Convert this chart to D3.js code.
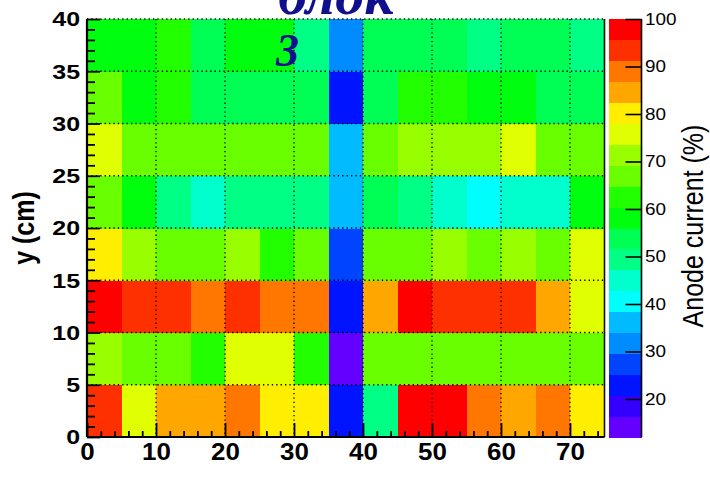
<!DOCTYPE html>
<html>
<head>
<meta charset="utf-8">
<script src="https://cdn.jsdelivr.net/npm/d3@7"></script>
<style>
  html, body { margin: 0; padding: 0; background: #fff; }
  svg { display: block; }
  .ax text { font-family: "Liberation Sans", Arial, sans-serif; font-weight: bold; fill: #000; }
  .zax text { font-family: "Liberation Sans", Arial, sans-serif; fill: #000; }
</style>
</head>
<body>
<svg id="chart" width="710" height="498"></svg>
<script>
// Bin lower edges (cm)
const xStarts = [0, 5, 10, 15, 20, 25, 30, 35, 40, 45, 50, 55, 60, 65, 70];
const yStarts = [0, 5, 10, 15, 20, 25, 30, 35];
const binSize = 5;

// Anode current (%) per bin, one row per y bin, left to right in x
const anodeY0  = [93, 76, 85, 84, 89, 80, 81, 22, 49, 98, 97, 89, 85, 88, 80];
const anodeY5  = [71, 67, 66, 62, 76, 75, 63, 12, 67, 66, 67, 66, 67, 66, 67];
const anodeY10 = [100, 94, 93, 89, 93, 88, 89, 23, 85, 97, 94, 93, 93, 84, 76];
const anodeY15 = [80, 71, 67, 66, 71, 62, 66, 27, 67, 66, 71, 67, 72, 66, 76];
const anodeY20 = [66, 58, 49, 45, 49, 50, 49, 36, 53, 49, 45, 41, 45, 44, 58];
const anodeY25 = [76, 67, 66, 67, 66, 67, 66, 36, 67, 71, 71, 70, 76, 67, 66];
const anodeY30 = [67, 58, 62, 54, 53, 54, 53, 23, 54, 62, 63, 58, 59, 54, 53];
const anodeY35 = [58, 59, 62, 54, 58, 57, 49, 32, 54, 53, 54, 49, 54, 53, 49];
const anodeRows = [anodeY0, anodeY5, anodeY10, anodeY15, anodeY20, anodeY25, anodeY30, anodeY35];

// Tick values
const xMajorTicks = [0, 10, 20, 30, 40, 50, 60, 70];
const yMajorTicks = [0, 5, 10, 15, 20, 25, 30, 35, 40];
const zMajorTicks = [20, 30, 40, 50, 60, 70, 80, 90, 100];

// 20-level violet -> red palette
const palette = ["#6300ff", "#3300ff", "#0014ff", "#0044ff", "#008bff", "#00bbff",
  "#00fffc", "#00ffcc", "#00ff85", "#00ff55", "#00ff0e", "#22ff00", "#69ff00",
  "#99ff00", "#e0ff00", "#ffee00", "#ffa700", "#ff7700", "#ff3000", "#ff0000"];

const cells = [];
anodeRows.forEach((row, j) => row.forEach((v, i) => cells.push({ x: xStarts[i], y: yStarts[j], v })));
const zMin = d3.min(cells, d => d.v);
const zMax = d3.max(cells, d => d.v);

const svg = d3.select("#chart");
const plot = { left: 87, right: 604.5, top: 19, bottom: 437 };
const bar = { left: 608.5, right: 641.5 };

const x = d3.scaleLinear().domain([0, 75]).range([plot.left, plot.right]);
const y = d3.scaleLinear().domain([0, 40]).range([plot.bottom, plot.top]);
const color = d3.scaleQuantize().domain([zMin, zMax]).range(palette);
const z = d3.scaleLinear().domain([zMin, zMax]).range([plot.bottom, plot.top]);

// Heat-map cells
svg.append("g").selectAll("rect").data(cells).join("rect")
  .attr("x", d => x(d.x))
  .attr("y", d => y(d.y + binSize))
  .attr("width", d => x(d.x + binSize) - x(d.x) + 0.5)
  .attr("height", d => y(d.y) - y(d.y + binSize) + 0.5)
  .attr("fill", d => color(d.v))
  .attr("shape-rendering", "crispEdges");

// Dotted grid at the major ticks
const grid = svg.append("g").attr("stroke", "#000").attr("stroke-width", 1.3)
  .attr("stroke-dasharray", "1.3 3.1");
grid.selectAll("line.gx").data(xMajorTicks.filter(t => t > 0)).join("line")
  .attr("x1", d => x(d)).attr("x2", d => x(d))
  .attr("y1", plot.top).attr("y2", plot.bottom);
grid.selectAll("line.gy").data(yMajorTicks.filter(t => t > 0)).join("line")
  .attr("x1", plot.left).attr("x2", plot.right)
  .attr("y1", d => y(d)).attr("y2", d => y(d));

// Right edge of frame
svg.append("line").attr("x1", plot.right).attr("x2", plot.right)
  .attr("y1", plot.top).attr("y2", plot.bottom)
  .attr("stroke", "#111").attr("stroke-width", 1.6);

// X axis
const xMinor = d3.range(0, 76, 2).filter(t => t % 10 !== 0);
const gx = svg.append("g").attr("class", "ax").attr("transform", `translate(0,${plot.bottom})`);
gx.call(d3.axisBottom(x).tickValues(xMajorTicks).tickSizeInner(-14).tickSizeOuter(0).tickPadding(6));
gx.append("g").call(d3.axisBottom(x).tickValues(xMinor).tickSizeInner(-6).tickSizeOuter(0).tickFormat(""))
  .select(".domain").remove();
gx.selectAll("line").attr("stroke", "#000").attr("stroke-width", 1.8);
gx.select(".domain").attr("stroke", "#000").attr("stroke-width", 2.2)
  .attr("d", `M${plot.left},0H${plot.right}`);
gx.selectAll("text").attr("font-size", 24).attr("transform", "scale(1.08,1)");

// Y axis
const yMinor = d3.range(0, 41, 1).filter(t => t % 5 !== 0);
const gy = svg.append("g").attr("class", "ax").attr("transform", `translate(${plot.left},0)`);
gy.call(d3.axisLeft(y).tickValues(yMajorTicks).tickSizeInner(-13).tickSizeOuter(0).tickPadding(5.5));
gy.append("g").call(d3.axisLeft(y).tickValues(yMinor).tickSizeInner(-8).tickSizeOuter(0).tickFormat(""))
  .select(".domain").remove();
gy.selectAll("line").attr("stroke", "#000").attr("stroke-width", 1.8);
gy.select(".domain").attr("stroke", "#000").attr("stroke-width", 2.2)
  .attr("d", `M0,${plot.top}V${plot.bottom}`);
gy.selectAll("text").attr("font-size", 20).attr("dy", "0.34em").attr("transform", "scale(1.25,1)");

// Axis title
svg.append("text")
  .attr("transform", `translate(34,${(plot.top + plot.bottom) / 2}) rotate(-90) scale(1,1.2)`)
  .attr("text-anchor", "middle")
  .attr("font-family", "Liberation Sans, Arial, sans-serif")
  .attr("font-weight", "bold").attr("font-size", 25)
  .text("y (cm)");

// Colour scale bar
const levels = d3.range(palette.length + 1).map(i => zMin + i * (zMax - zMin) / palette.length);
svg.append("g").selectAll("rect").data(palette).join("rect")
  .attr("x", bar.left)
  .attr("y", (c, i) => z(levels[i + 1]))
  .attr("width", bar.right - bar.left)
  .attr("height", (c, i) => z(levels[i]) - z(levels[i + 1]) + 0.5)
  .attr("fill", c => c)
  .attr("shape-rendering", "crispEdges");

const gz = svg.append("g").attr("class", "zax").attr("transform", `translate(${bar.right},0)`);
gz.call(d3.axisRight(z).tickValues(zMajorTicks).tickSizeInner(-16).tickSizeOuter(0).tickPadding(3));
gz.selectAll("line").attr("stroke", "#000").attr("stroke-width", 1.6);
gz.select(".domain").attr("stroke", "#000").attr("stroke-width", 1.6)
  .attr("d", `M0,${plot.top}V${plot.bottom}`);
gz.selectAll("text").attr("font-size", 16).attr("transform", "scale(1.18,1)");

svg.append("text")
  .attr("transform", `translate(703,226) rotate(-90) scale(1,1.15)`)
  .attr("text-anchor", "middle")
  .attr("font-family", "Liberation Sans, Arial, sans-serif")
  .attr("font-size", 25)
  .text("Anode current (%)");

// Label in the top of the pad
svg.append("text")
  .attr("x", 278).attr("y", 14)
  .attr("font-family", "Liberation Serif, Times New Roman, serif")
  .attr("font-style", "italic").attr("font-weight", "bold")
  .attr("font-size", 58).attr("fill", "#10108c")
  .text("блок");
svg.append("text")
  .attr("x", 276).attr("y", 66)
  .attr("font-family", "Liberation Serif, Times New Roman, serif")
  .attr("font-style", "italic").attr("font-weight", "bold")
  .attr("font-size", 46).attr("fill", "#10108c")
  .text("3");
</script>
</body>
</html>
